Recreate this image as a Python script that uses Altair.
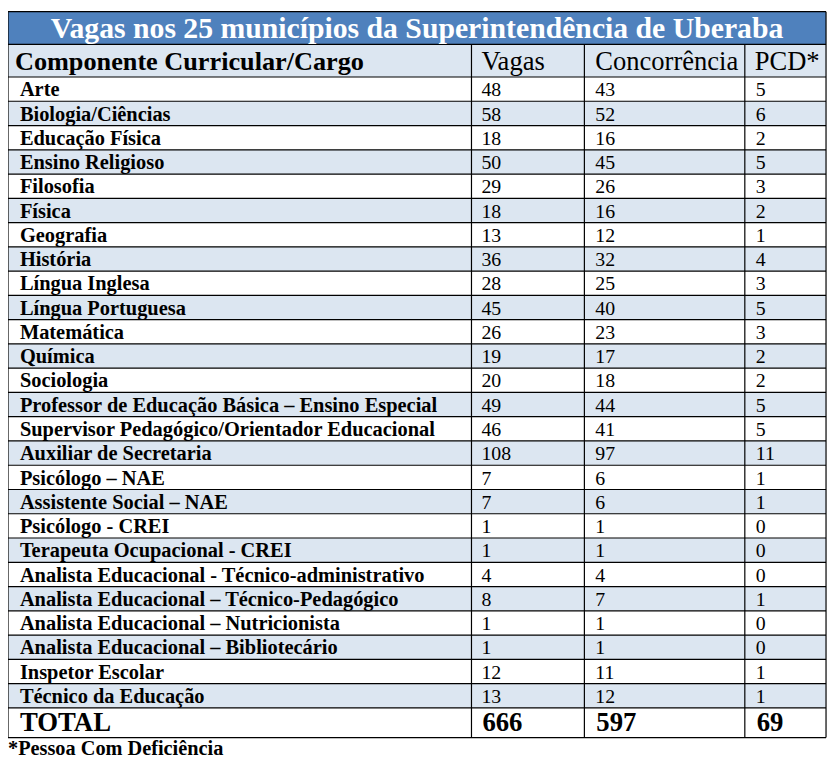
import altair as alt
import pandas as pd

# ---------------- data ----------------
title = "Vagas nos 25 municípios da Superintendência de Uberaba"
headers = ["Componente Curricular/Cargo", "Vagas", "Concorrência", "PCD*"]
cargos = [
    "Arte", "Biologia/Ciências", "Educação Física", "Ensino Religioso", "Filosofia",
    "Física", "Geografia", "História", "Língua Inglesa", "Língua Portuguesa",
    "Matemática", "Química", "Sociologia",
    "Professor de Educação Básica – Ensino Especial",
    "Supervisor Pedagógico/Orientador Educacional",
    "Auxiliar de Secretaria", "Psicólogo – NAE", "Assistente Social – NAE",
    "Psicólogo - CREI", "Terapeuta Ocupacional - CREI",
    "Analista Educacional  - Técnico-administrativo",
    "Analista Educacional – Técnico-Pedagógico",
    "Analista Educacional – Nutricionista",
    "Analista Educacional – Bibliotecário",
    "Inspetor Escolar", "Técnico da Educação",
]
vagas = [48, 58, 18, 50, 29, 18, 13, 36, 28, 45, 26, 19, 20, 49, 46, 108, 7, 7, 1, 1, 4, 8, 1, 1, 12, 13]
concorrencia = [43, 52, 16, 45, 26, 16, 12, 32, 25, 40, 23, 17, 18, 44, 41, 97, 6, 6, 1, 1, 4, 7, 1, 1, 11, 12]
pcd = [5, 6, 2, 5, 3, 2, 1, 4, 3, 5, 3, 2, 2, 5, 5, 11, 1, 1, 0, 0, 0, 1, 0, 0, 1, 1]
totals = ["TOTAL", "666", "597", "69"]
footnote = "*Pessoa Com Deficiência"

# ---------------- layout ----------------
W, H = 829, 756
COL_EDGES = [5, 473, 587, 749, 831]
TEXT_X = [17, 483, 598, 760]
HEAD_X = [12, 483, 598, 759]
TITLE_TOP, HEADER_TOP, BODY_TOP, ROW_H = 5, 38, 71, 24.5
TOTAL_BOTTOM = 738
BLUE = "#4F81BD"
LIGHT = "#DCE6F1"
FONT = "Liberation Serif, Times New Roman, DejaVu Serif, serif"

xs = alt.Scale(domain=[5, 5 + W], range=[0, W])
ys = alt.Scale(domain=[5, 5 + H], range=[0, H])
X = lambda f: alt.X(f, type="quantitative", scale=xs, axis=None)
Y = lambda f: alt.Y(f, type="quantitative", scale=ys, axis=None)

# backgrounds
bg = [dict(x=COL_EDGES[0], x2=COL_EDGES[-1], y=TITLE_TOP, y2=HEADER_TOP, c=BLUE),
      dict(x=COL_EDGES[0], x2=COL_EDGES[-1], y=HEADER_TOP, y2=BODY_TOP, c=LIGHT)]
for i in range(len(cargos)):
    bg.append(dict(x=COL_EDGES[0], x2=COL_EDGES[-1], y=BODY_TOP + i * ROW_H,
                   y2=BODY_TOP + (i + 1) * ROW_H, c=LIGHT if i % 2 else "#FFFFFF"))
rects = alt.Chart(pd.DataFrame(bg)).mark_rect(strokeWidth=0).encode(
    x=X("x"), x2="x2", y=Y("y"), y2="y2", color=alt.Color("c:N", scale=None))

# grid lines
lines = []
for yy in [TITLE_TOP, HEADER_TOP] + [BODY_TOP + i * ROW_H for i in range(len(cargos) + 1)] + [TOTAL_BOTTOM]:
    lines.append(dict(x=COL_EDGES[0], x2=COL_EDGES[-1], y=yy, y2=yy))
for k, xx in enumerate(COL_EDGES):
    top = TITLE_TOP if k in (0, len(COL_EDGES) - 1) else HEADER_TOP
    lines.append(dict(x=xx, x2=xx, y=top, y2=TOTAL_BOTTOM))
rules = alt.Chart(pd.DataFrame(lines)).mark_rule(color="#000000", strokeWidth=1.2).encode(
    x=X("x"), x2="x2", y=Y("y"), y2="y2")

# title
title_layer = alt.Chart(pd.DataFrame([dict(t=title, x=(COL_EDGES[0] + COL_EDGES[-1]) / 2, y=32)])).mark_text(
    font=FONT, fontSize=30, fontWeight="bold", color="#FFFFFF", align="center", baseline="alphabetic"
).encode(x=X("x"), y=Y("y"), text="t:N")

# header
hdf = pd.DataFrame([dict(t=headers[0], x=HEAD_X[0], y=64)])
head_bold = alt.Chart(hdf).mark_text(font=FONT, fontSize=26.5, fontWeight="bold", align="left",
                                     baseline="alphabetic", color="#000000").encode(x=X("x"), y=Y("y"), text="t:N")
hdf2 = pd.DataFrame([dict(t=headers[k], x=HEAD_X[k], y=64) for k in range(1, 4)])
head_reg = alt.Chart(hdf2).mark_text(font=FONT, fontSize=26.8, align="left",
                                     baseline="alphabetic", color="#000000").encode(x=X("x"), y=Y("y"), text="t:N")

# body
names = pd.DataFrame([dict(t=c, x=TEXT_X[0], y=BODY_TOP + i * ROW_H + 19.5) for i, c in enumerate(cargos)])
name_layer = alt.Chart(names).mark_text(font=FONT, fontSize=20.6, fontWeight="bold", align="left",
                                        baseline="alphabetic", color="#000000").encode(x=X("x"), y=Y("y"), text="t:N")
nums = []
for i in range(len(cargos)):
    for k, col in enumerate([vagas, concorrencia, pcd], start=1):
        nums.append(dict(t=str(col[i]), x=TEXT_X[k], y=BODY_TOP + i * ROW_H + 19.5))
num_layer = alt.Chart(pd.DataFrame(nums)).mark_text(font=FONT, fontSize=20, align="left",
                                                     baseline="alphabetic", color="#000000").encode(x=X("x"), y=Y("y"), text="t:N")

# totals
tot = pd.DataFrame([dict(t=totals[k], x=TEXT_X[k] + (1 if k else 0), y=731) for k in range(4)])
tot_layer = alt.Chart(tot).mark_text(font=FONT, fontSize=27, fontWeight="bold", align="left",
                                     baseline="alphabetic", color="#000000").encode(x=X("x"), y=Y("y"), text="t:N")

# footnote
foot = alt.Chart(pd.DataFrame([dict(t=footnote, x=5, y=756)])).mark_text(
    font=FONT, fontSize=20.5, fontWeight="bold", align="left", baseline="alphabetic", color="#000000"
).encode(x=X("x"), y=Y("y"), text="t:N")

chart = alt.layer(rects, rules, title_layer, head_bold, head_reg, name_layer, num_layer, tot_layer, foot).properties(
    width=W, height=H, padding=0, autosize=alt.AutoSizeParams(type="none"), background="#FFFFFF"
).configure_view(stroke=None)

chart.save("out.html", embed_options={"renderer": "svg", "actions": False})
